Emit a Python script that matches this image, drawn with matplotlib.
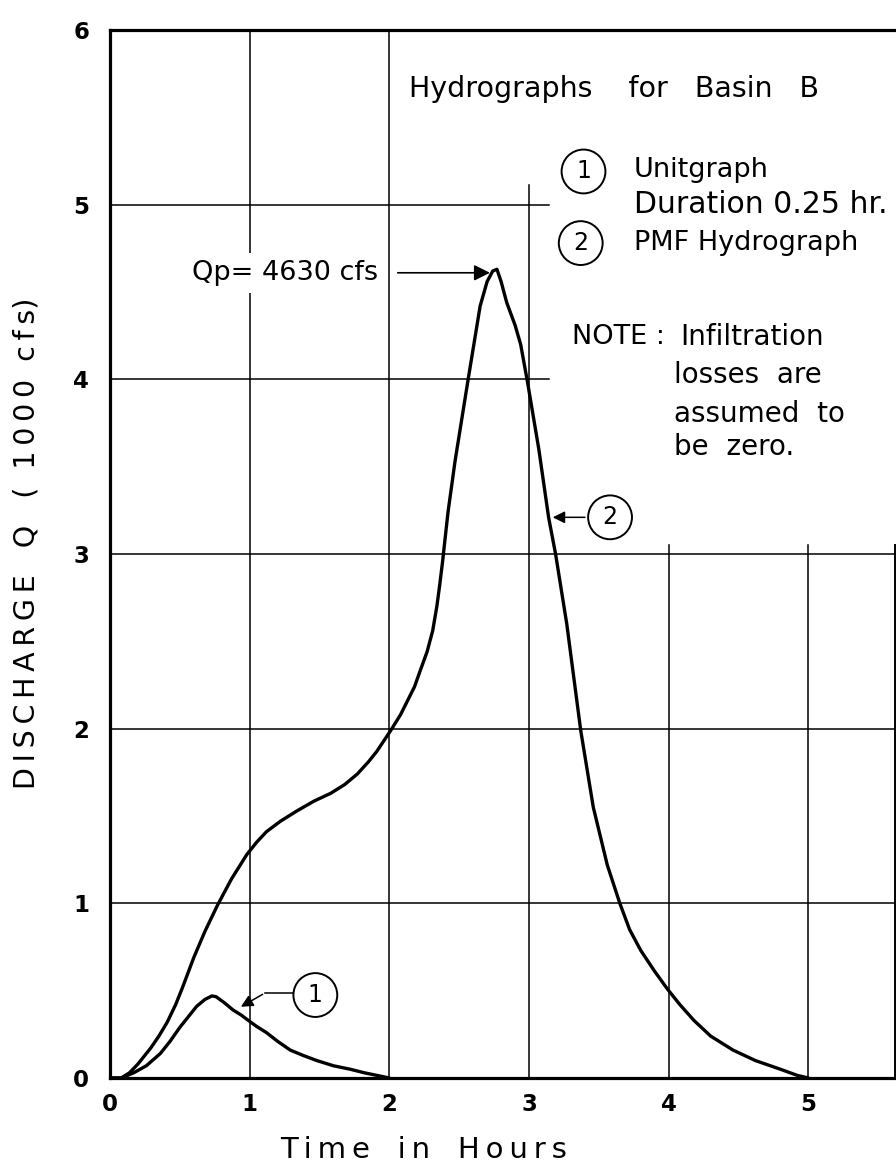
import matplotlib
matplotlib.use('Agg')
import matplotlib.pyplot as plt

plt.rcParams['font.family'] = ['DejaVu Sans']

# curve 2: PMF hydrograph (hours, 1000 cfs)
pmf_t = [0, 0.08, 0.14, 0.20, 0.29, 0.35, 0.41, 0.47, 0.52, 0.60, 0.68, 0.77,
         0.87, 0.98, 1.05, 1.12, 1.22, 1.34, 1.46, 1.58, 1.68, 1.77, 1.85, 1.91,
         2.01, 2.08, 2.13, 2.18, 2.22, 2.27, 2.31, 2.34, 2.36, 2.38, 2.42, 2.47,
         2.56, 2.65, 2.70, 2.74, 2.77, 2.80, 2.84, 2.90, 2.94, 2.99, 3.07, 3.14,
         3.19, 3.27, 3.37, 3.46, 3.56, 3.65, 3.72, 3.80, 3.90, 3.99, 4.08, 4.18,
         4.30, 4.46, 4.62, 4.80, 4.92, 5.0]
pmf_q = [0, 0.0, 0.03, 0.08, 0.17, 0.24, 0.32, 0.42, 0.52, 0.69, 0.84, 0.99,
         1.14, 1.28, 1.35, 1.41, 1.47, 1.53, 1.585, 1.63, 1.68, 1.74, 1.81, 1.87,
         1.99, 2.08, 2.16, 2.24, 2.33, 2.44, 2.56, 2.70, 2.82, 2.95, 3.24, 3.53,
         3.98, 4.42, 4.56, 4.62, 4.63, 4.56, 4.44, 4.31, 4.20, 3.98, 3.60, 3.21,
         3.0, 2.60, 1.99, 1.55, 1.22, 1.0, 0.85, 0.73, 0.61, 0.51, 0.42, 0.33,
         0.24, 0.16, 0.10, 0.05, 0.015, 0.0]

# curve 1: unitgraph, duration 0.25 hr
unit_t = [0, 0.08, 0.17, 0.26, 0.36, 0.43, 0.50, 0.56, 0.62, 0.68, 0.73, 0.76,
          0.82, 0.88, 0.94, 0.99, 1.05, 1.12, 1.20, 1.29, 1.38, 1.48, 1.60,
          1.72, 1.82, 1.91, 2.0]
unit_q = [0, 0.0, 0.03, 0.07, 0.14, 0.21, 0.29, 0.35, 0.41, 0.45, 0.47, 0.465,
          0.43, 0.39, 0.36, 0.33, 0.295, 0.26, 0.21, 0.16, 0.13, 0.10, 0.07,
          0.05, 0.03, 0.015, 0.0]

x_ticks = [0, 1, 2, 3, 4, 5]
y_ticks = [0, 1, 2, 3, 4, 5, 6]
peak_q = 4.63

note_lines = ['Infiltration', 'losses  are', 'assumed  to', 'be  zero.']
note_y = [4.24, 4.025, 3.80, 3.61]

def spaced(s):
    return '\u2009'.join(s)

fig = plt.figure(figsize=(8.96, 11.67), dpi=100)
ax = fig.add_axes([110/896, 89/1167, 785/896, 1048/1167])
ax.set_xlim(0, 5.62)
ax.set_ylim(0, 6)

# grid lines, broken where the notes sit
glw = 1.1
for x in x_ticks[1:]:
    top = 6 if x < 3 else (5.11 if x == 3 else 3.05)
    ax.plot([x, x], [0, top], color='black', lw=glw, zorder=1)
for y in y_ticks[1:-1]:
    right = 5.62 if y <= 3 else 3.14
    ax.plot([0, right], [y, y], color='black', lw=glw, zorder=1)

for s in ['left', 'top', 'bottom']:
    ax.spines[s].set_linewidth(2.3)
ax.spines['right'].set_linewidth(1.4)
ax.spines['right'].set_bounds(0, 3.05)

ax.plot(pmf_t, pmf_q, color='black', lw=2.4, zorder=3,
        solid_capstyle='round', solid_joinstyle='round')
ax.plot(unit_t, unit_q, color='black', lw=2.4, zorder=3,
        solid_capstyle='round', solid_joinstyle='round')

ax.set_xticks(x_ticks)
ax.set_yticks(y_ticks)
ax.set_xticklabels([str(v) for v in x_ticks], fontsize=16.5, fontweight='bold')
ax.set_yticklabels([str(v) for v in y_ticks], fontsize=16.5, fontweight='bold')
ax.tick_params(length=0, pad=11)
ax.tick_params(axis='y', pad=15)

ax.set_xlabel(spaced('Time') + '   ' + spaced('in') + '   ' + spaced('Hours'),
              fontsize=21)
ax.xaxis.set_label_coords(0.40, -0.055)
ax.set_ylabel(spaced('DISCHARGE') + '   Q   (  ' + spaced('1000') + '  '
              + spaced('cfs') + ')', fontsize=20.5)
ax.yaxis.set_label_coords(-0.088, 0.51)

fs = 19.5
# peak annotation
ax.text(1.25, 4.61, 'Qp= 4630 cfs', ha='center', va='center', fontsize=fs,
        bbox=dict(facecolor='white', edgecolor='none', pad=5), zorder=5)
ax.annotate('', xy=(2.74, peak_q - 0.02), xytext=(2.04, peak_q - 0.02),
            arrowprops=dict(arrowstyle='-|>', color='black', lw=1.2,
                            mutation_scale=24), zorder=5)

# title and legend notes
ax.text(2.14, 5.66, 'Hydrographs    for   Basin   B', ha='left', va='center',
        fontsize=20.5)
circ = dict(boxstyle='circle,pad=0.42', facecolor='white', edgecolor='black',
            lw=1.4)
ax.text(3.39, 5.19, '1', ha='center', va='center', fontsize=17, bbox=circ)
ax.text(3.37, 4.78, '2', ha='center', va='center', fontsize=17, bbox=circ)
ax.text(3.75, 5.20, 'Unitgraph', ha='left', va='center', fontsize=fs)
ax.text(3.75, 5.00, 'Duration 0.25 hr.', ha='left', va='center', fontsize=21.5)
ax.text(3.75, 4.78, 'PMF Hydrograph', ha='left', va='center', fontsize=fs)
ax.text(3.31, 4.24, 'NOTE :', ha='left', va='center', fontsize=fs)
for line, ly in zip(note_lines, note_y):
    ax.text(4.08 if line == note_lines[0] else 4.04, ly, line, ha='left',
            va='center', fontsize=fs + 0.5)

# curve labels with leaders
ax.text(1.47, 0.475, '1', ha='center', va='center', fontsize=17, bbox=circ,
        zorder=6)
ax.plot([1.31, 1.11], [0.487, 0.487], color='black', lw=1.1, zorder=4)
ax.annotate('', xy=(0.92, 0.40), xytext=(1.11, 0.487),
            arrowprops=dict(arrowstyle='-|>', color='black', lw=1.1,
                            mutation_scale=18), zorder=5)
ax.text(3.58, 3.21, '2', ha='center', va='center', fontsize=17, bbox=circ,
        zorder=6)
ax.annotate('', xy=(3.15, 3.21), xytext=(3.42, 3.21),
            arrowprops=dict(arrowstyle='-|>', color='black', lw=1.1,
                            mutation_scale=18), zorder=5)

fig.savefig('out.png', dpi=100)
